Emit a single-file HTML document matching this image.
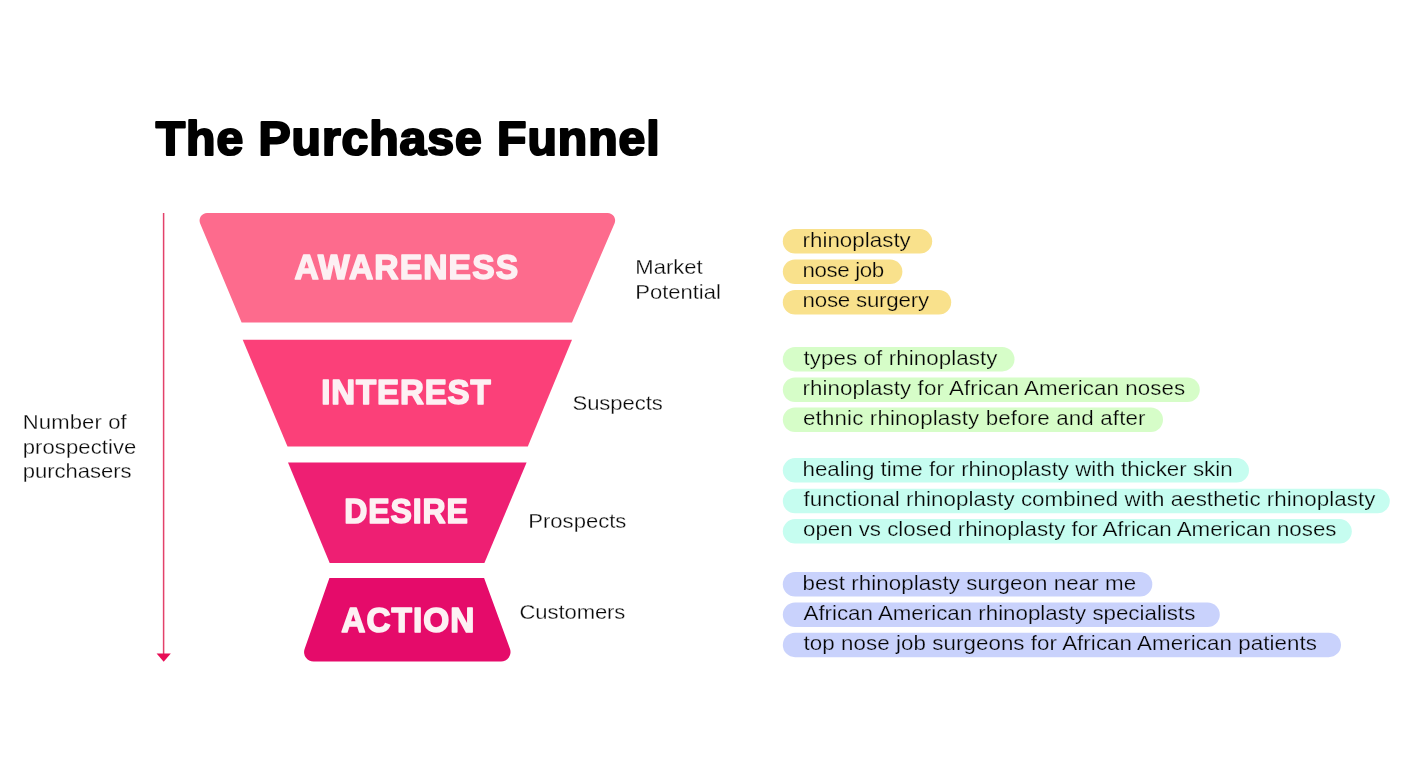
<!DOCTYPE html>
<html lang="en">
<head>
<meta charset="utf-8">
<title>The Purchase Funnel</title>
<style>
html,body{margin:0;padding:0;background:#fff;}
body{width:1408px;height:768px;overflow:hidden;}
svg{display:block;will-change:transform;}
text{font-family:"Liberation Sans",sans-serif;white-space:pre;}
.title{font-weight:700;font-size:48.2px;fill:#000;stroke:#000;stroke-width:2.2px;stroke-linejoin:round;}
.fl{font-weight:700;font-size:34.8px;fill:#fdf0f3;stroke:#fdf0f3;stroke-width:1.6px;stroke-linejoin:round;}
.sl{font-size:20.6px;fill:#0a0a0a;stroke:#fff;stroke-width:0.25px;}
.pt{font-size:20.5px;fill:#050505;stroke-width:0.25px;}
.y{stroke:#f9e18c;}
.g{stroke:#d6fdc8;}
.c{stroke:#c6fdf0;}
.v{stroke:#c9d2fc;}
.by{fill:#f9e18c;}
.bg{fill:#d6fdc8;}
.bc{fill:#c6fdf0;}
.bv{fill:#c9d2fc;}
</style>
</head>
<body>
<svg width="1408" height="768" viewBox="0 0 1408 768">
<rect width="1408" height="768" fill="#ffffff"/>
<text id="t0" class="title" transform="translate(155.75 154.70) scale(1.0000 1)" style="letter-spacing:0.917px">The Purchase Funnel</text>
<rect x="162.85" y="213" width="1.5" height="441" fill="#e3416a"/>
<path d="M156.6 653.5 L170.8 653.5 L163.7 661.7 Z" fill="#e80d55"/>
<path d="M200.15 223.39 A7.5 7.5 0 0 1 207.07 213.00 L607.62 213.00 A7.5 7.5 0 0 1 614.51 223.46 L572.00 322.50 L241.60 322.50 Z" fill="#fd6b8d"/>
<path d="M242.70 339.80 L572.00 339.80 L527.80 446.60 L287.50 446.60 Z" fill="#fb4079"/>
<path d="M288.00 462.50 L526.60 462.50 L484.40 562.90 L329.70 562.90 Z" fill="#ee1f73"/>
<path d="M329.40 578.00 L484.10 578.00 L509.95 648.84 A9.5 9.5 0 0 1 501.02 661.60 L313.58 661.60 A9.5 9.5 0 0 1 304.61 648.97 Z" fill="#e50b6a"/>
<text id="f0" class="fl" transform="translate(294.50 279.10) scale(0.9650 1)" style="letter-spacing:1.166px">AWARENESS</text>
<text id="f1" class="fl" transform="translate(321.25 404.10) scale(0.9500 1)" style="letter-spacing:0.895px">INTEREST</text>
<text id="f2" class="fl" transform="translate(344.25 522.90) scale(0.9200 1)" style="letter-spacing:0.978px">DESIRE</text>
<text id="f3" class="fl" transform="translate(341.25 631.90) scale(0.9600 1)" style="letter-spacing:1.052px">ACTION</text>
<text id="s0" class="sl" transform="translate(635.25 274.00) scale(1.0700 1)" style="letter-spacing:0.019px">Market</text>
<text id="s1" class="sl" transform="translate(635.25 299.00) scale(1.0700 1)" style="letter-spacing:-0.018px">Potential</text>
<text id="s2" class="sl" transform="translate(572.50 409.70) scale(1.0700 1)" style="letter-spacing:-0.053px">Suspects</text>
<text id="s3" class="sl" transform="translate(528.25 527.50) scale(1.0700 1)" style="letter-spacing:0.018px">Prospects</text>
<text id="s4" class="sl" transform="translate(519.50 619.20) scale(1.0700 1)" style="letter-spacing:-0.082px">Customers</text>
<text id="s5" class="sl" transform="translate(22.75 429.40) scale(1.0700 1)" style="letter-spacing:0.129px">Number of</text>
<text id="s6" class="sl" transform="translate(22.75 453.80) scale(1.0700 1)" style="letter-spacing:0.079px">prospective</text>
<text id="s7" class="sl" transform="translate(22.75 478.30) scale(1.0700 1)" style="letter-spacing:-0.021px">purchasers</text>
<rect class="by" x="782.8" y="229.1" width="149.40" height="24.5" rx="12.25"/>
<text id="p0" class="pt y" transform="translate(802.50 247.00) scale(1.0900 1)" style="letter-spacing:0.023px">rhinoplasty</text>
<rect class="by" x="782.8" y="259.5" width="119.60" height="24.5" rx="12.25"/>
<text id="p1" class="pt y" transform="translate(802.50 277.00) scale(1.0900 1)" style="letter-spacing:-0.354px">nose job</text>
<rect class="by" x="782.8" y="290" width="168.40" height="24.5" rx="12.25"/>
<text id="p2" class="pt y" transform="translate(802.50 306.60) scale(1.0900 1)" style="letter-spacing:-0.213px">nose surgery</text>
<rect class="bg" x="782.8" y="346.9" width="231.70" height="24.5" rx="12.25"/>
<text id="p3" class="pt g" transform="translate(803.50 364.60) scale(1.0900 1)" style="letter-spacing:0.072px">types of rhinoplasty</text>
<rect class="bg" x="782.8" y="377.5" width="417.00" height="24.5" rx="12.25"/>
<text id="p4" class="pt g" transform="translate(802.50 394.70) scale(1.0900 1)" style="letter-spacing:0.067px">rhinoplasty for African American noses</text>
<rect class="bg" x="782.8" y="407.5" width="380.20" height="24.5" rx="12.25"/>
<text id="p5" class="pt g" transform="translate(803.00 424.70) scale(1.0900 1)" style="letter-spacing:0.128px">ethnic rhinoplasty before and after</text>
<rect class="bc" x="782.8" y="458.1" width="466.20" height="24.5" rx="12.25"/>
<text id="p6" class="pt c" transform="translate(802.50 475.80) scale(1.0900 1)" style="letter-spacing:-0.016px">healing time for rhinoplasty with thicker skin</text>
<rect class="bc" x="782.8" y="488.8" width="607.00" height="24.5" rx="12.25"/>
<text id="p7" class="pt c" transform="translate(803.50 506.00) scale(1.0900 1)" style="letter-spacing:0.052px">functional rhinoplasty combined with aesthetic rhinoplasty</text>
<rect class="bc" x="782.8" y="519.1" width="569.00" height="24.5" rx="12.25"/>
<text id="p8" class="pt c" transform="translate(803.00 536.00) scale(1.0900 1)" style="letter-spacing:-0.031px">open vs closed rhinoplasty for African American noses</text>
<rect class="bv" x="782.8" y="572" width="369.50" height="24.5" rx="12.25"/>
<text id="p9" class="pt v" transform="translate(802.50 589.90) scale(1.0900 1)" style="letter-spacing:0.059px">best rhinoplasty surgeon near me</text>
<rect class="bv" x="782.8" y="602.5" width="437.00" height="24.5" rx="12.25"/>
<text id="p10" class="pt v" transform="translate(803.50 620.10) scale(1.0900 1)" style="letter-spacing:-0.013px">African American rhinoplasty specialists</text>
<rect class="bv" x="782.8" y="632.7" width="558.20" height="24.5" rx="12.25"/>
<text id="p11" class="pt v" transform="translate(803.50 650.20) scale(1.0900 1)" style="letter-spacing:0.055px">top nose job surgeons for African American patients</text>
</svg>
</body>
</html>
